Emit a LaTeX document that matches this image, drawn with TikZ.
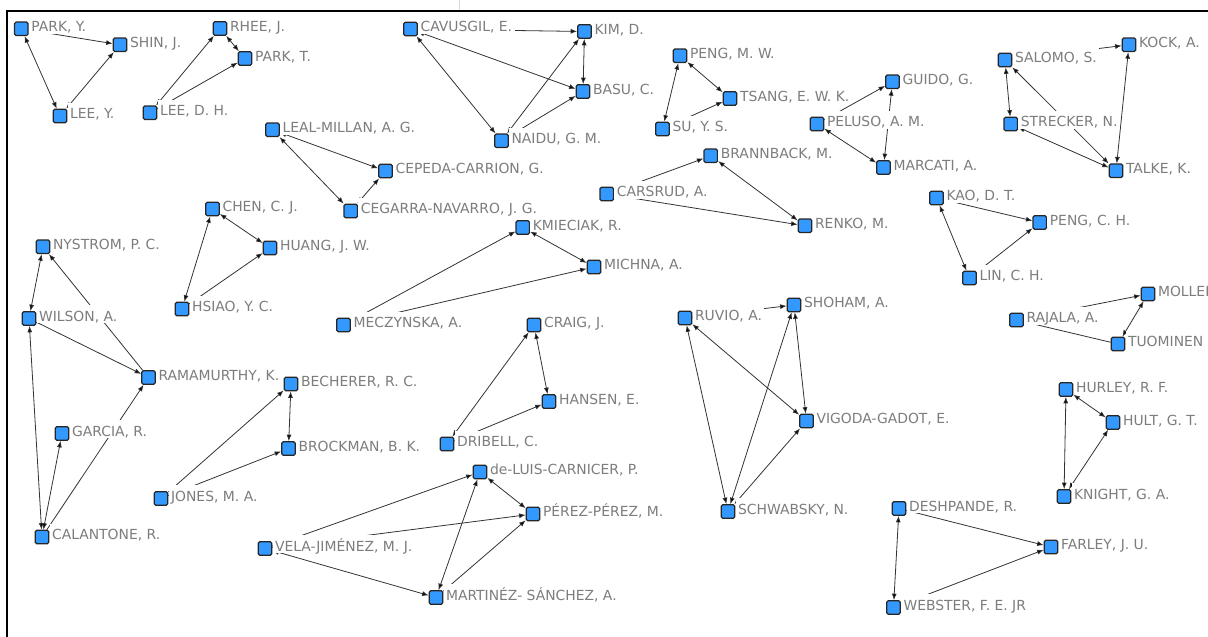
\documentclass[tikz,border=0pt]{standalone}
\usepackage{fontspec}
\setmainfont{DejaVu Sans}
\usetikzlibrary{arrows.meta, backgrounds}
\definecolor{actorblue}{RGB}{51,153,255}
\definecolor{labelgray}{RGB}{125,125,125}
\begin{document}
\begin{tikzpicture}[x=1pt, y=-1pt, >={Latex[length=6.5pt,width=5pt]},
	actor/.style={rectangle, rounded corners=1.5pt, draw=black!85, line width=1.2pt, fill=actorblue, minimum size=13.5pt, inner sep=0pt},
	lbl/.style={fill=white, text=labelgray, font=\fontsize{13.9}{16}\selectfont, inner xsep=2.5pt, inner ysep=0.5pt, text height=15.5pt, text depth=1.5pt, yshift=4.3pt},
	tie/.style={draw=black!80, line width=0.8pt}]
	\useasboundingbox (0,0) rectangle (1208,637);
	\draw[black!15, line width=1pt] (459,0) -- (459,11);
	\draw[line width=1.2pt] (7,637) -- (7,11) -- (1208,11);

	\node[actor, label={[lbl]right:{PARK, Y.}}] (parkY) at (21.3,28.8) {};
	\node[actor, label={[lbl]right:{SHIN, J.}}] (shin) at (120,44.8) {};
	\node[actor, label={[lbl]right:{LEE, Y.}}] (leeY) at (60,116) {};
	\node[actor, label={[lbl]right:{RHEE, J.}}] (rhee) at (220,28.5) {};
	\node[actor, label={[lbl]right:{PARK, T.}}] (parkT) at (245,58.5) {};
	\node[actor, label={[lbl]right:{LEE, D. H.}}] (leeDH) at (150,112.8) {};
	\node[actor, label={[lbl]right:{CAVUSGIL, E.}}] (cavusgil) at (410.5,29) {};
	\node[actor, label={[lbl]right:{KIM, D.}}] (kim) at (584.5,31.5) {};
	\node[actor, label={[lbl]right:{BASU, C.}}] (basu) at (583,91.5) {};
	\node[actor, label={[lbl]right:{NAIDU, G. M.}}] (naidu) at (501.5,140.8) {};
	\node[actor, label={[lbl]right:{PENG, M. W.}}] (pengMW) at (680,55.8) {};
	\node[actor, label={[lbl]right:{TSANG, E. W. K.}}] (tsang) at (730,98.5) {};
	\node[actor, label={[lbl]right:{SU, Y. S.}}] (su) at (662.5,129) {};
	\node[actor, label={[lbl]right:{GUIDO, G.}}] (guido) at (892.5,81.8) {};
	\node[actor, label={[lbl]right:{PELUSO, A. M.}}] (peluso) at (817,124) {};
	\node[actor, label={[lbl]right:{MARCATI, A.}}] (marcati) at (883.5,167.5) {};
	\node[actor, label={[lbl]right:{SALOMO, S.}}] (salomo) at (1005,60) {};
	\node[actor, label={[lbl]right:{KOCK, A.}}] (kock) at (1129,44.8) {};
	\node[actor, label={[lbl]right:{STRECKER, N.}}] (strecker) at (1010.8,124) {};
	\node[actor, label={[lbl]right:{TALKE, K.}}] (talke) at (1116,170.8) {};
	\node[actor, label={[lbl]right:{LEAL-MILLAN, A. G.}}] (leal) at (272.5,129.8) {};
	\node[actor, label={[lbl]right:{CEPEDA-CARRION, G.}}] (cepeda) at (385.5,171) {};
	\node[actor, label={[lbl]right:{CEGARRA-NAVARRO, J. G.}}] (cegarra) at (350.8,211) {};
	\node[actor, label={[lbl]right:{BRANNBACK, M.}}] (brannback) at (710.8,155.8) {};
	\node[actor, label={[lbl]right:{CARSRUD, A.}}] (carsrud) at (606.8,194) {};
	\node[actor, label={[lbl]right:{RENKO, M.}}] (renko) at (805,225.8) {};
	\node[actor, label={[lbl]right:{KAO, D. T.}}] (kao) at (936.5,198) {};
	\node[actor, label={[lbl]right:{PENG, C. H.}}] (pengCH) at (1039.8,222.5) {};
	\node[actor, label={[lbl]right:{LIN, C. H.}}] (lin) at (969.5,278) {};
	\node[actor, label={[lbl]right:{CHEN, C. J.}}] (chen) at (212.5,209) {};
	\node[actor, label={[lbl]right:{HUANG, J. W.}}] (huang) at (270,248) {};
	\node[actor, label={[lbl]right:{HSIAO, Y. C.}}] (hsiao) at (182,309) {};
	\node[actor, label={[lbl]right:{KMIECIAK, R.}}] (kmieciak) at (522.8,227.5) {};
	\node[actor, label={[lbl]right:{MICHNA, A.}}] (michna) at (594,267) {};
	\node[actor, label={[lbl]right:{MECZYNSKA, A.}}] (meczynska) at (343.5,325) {};
	\node[actor, label={[lbl]right:{NYSTROM, P. C.}}] (nystrom) at (43,246.8) {};
	\node[actor, label={[lbl]right:{WILSON, A.}}] (wilson) at (29,318.5) {};
	\node[actor, label={[lbl]right:{RAMAMURTHY, K.}}] (ramamurthy) at (148.5,377.5) {};
	\node[actor, label={[lbl]right:{GARCIA, R.}}] (garcia) at (62,433.5) {};
	\node[actor, label={[lbl]right:{CALANTONE, R.}}] (calantone) at (42,537) {};
	\node[actor, label={[lbl]right:{BECHERER, R. C.}}] (becherer) at (291,384) {};
	\node[actor, label={[lbl]right:{BROCKMAN, B. K.}}] (brockman) at (288.5,448.5) {};
	\node[actor, label={[lbl]right:{JONES, M. A.}}] (jones) at (161,498.5) {};
	\node[actor, label={[lbl]right:{CRAIG, J.}}] (craig) at (534,325) {};
	\node[actor, label={[lbl]right:{HANSEN, E.}}] (hansen) at (549,401.5) {};
	\node[actor, label={[lbl]right:{DRIBELL, C.}}] (dribell) at (447,444) {};
	\node[actor, label={[lbl]right:{de-LUIS-CARNICER, P.}}] (deluis) at (480,472) {};
	\node[actor, label={[lbl]right:{PÉREZ-PÉREZ, M.}}] (perez) at (533,514) {};
	\node[actor, label={[lbl]right:{VELA-JIMÉNEZ, M. J.}}] (vela) at (265,548.5) {};
	\node[actor, label={[lbl]right:{MARTINÉZ- SÁNCHEZ, A.}}] (martinez) at (436,597.5) {};
	\node[actor, label={[lbl]right:{RUVIO, A.}}] (ruvio) at (685,318) {};
	\node[actor, label={[lbl]right:{SHOHAM, A.}}] (shoham) at (794,305) {};
	\node[actor, label={[lbl]right:{VIGODA-GADOT, E.}}] (vigoda) at (806.5,421) {};
	\node[actor, label={[lbl]right:{SCHWABSKY, N.}}] (schwabsky) at (728,511.5) {};
	\node[actor, label={[lbl]right:{MOLLER}}] (moller) at (1148,294) {};
	\node[actor, label={[lbl]right:{RAJALA, A.}}] (rajala) at (1016.5,320) {};
	\node[actor, label={[lbl]right:{TUOMINEN}}] (tuominen) at (1118,344) {};
	\node[actor, label={[lbl]right:{HURLEY, R. F.}}] (hurley) at (1066,389.5) {};
	\node[actor, label={[lbl]right:{HULT, G. T.}}] (hult) at (1113,422.5) {};
	\node[actor, label={[lbl]right:{KNIGHT, G. A.}}] (knight) at (1064,496.5) {};
	\node[actor, label={[lbl]right:{DESHPANDE, R.}}] (deshpande) at (899,508.5) {};
	\node[actor, label={[lbl]right:{FARLEY, J. U.}}] (farley) at (1051,547) {};
	\node[actor, label={[lbl]right:{WEBSTER, F. E. JR}}] (webster) at (893.5,607.5) {};

	\begin{pgfonlayer}{background}
	\path[tie, ->]
		(parkY) edge [<->] (leeY)
		(parkY) edge (shin)
		(leeY) edge [<->] (shin)
		(rhee) edge [<->] (parkT)
		(leeDH) edge [<->] (rhee)
		(leeDH) edge (parkT)
		(cavusgil) edge (kim)
		(cavusgil) edge [<->] (basu)
		(cavusgil) edge [<->] (naidu)
		(naidu) edge [<->] (kim)
		(kim) edge [<->] (basu)
		(naidu) edge (basu)
		(pengMW) edge [<->] (tsang)
		(pengMW) edge [<->] (su)
		(su) edge (tsang)
		(leal) edge [<->] (cepeda)
		(leal) edge [<->] (cegarra)
		(cegarra) edge [<->] (cepeda)
		(carsrud) edge (brannback)
		(carsrud) edge (renko)
		(brannback) edge [<->] (renko)
		(peluso) edge (guido)
		(marcati) edge [<->] (guido)
		(peluso) edge [<->] (marcati)
		(salomo) edge (kock)
		(salomo) edge [<->] (strecker)
		(kock) edge [<->] (talke)
		(strecker) edge [<->] (talke)
		(salomo) edge [<->] (talke)
		(kao) edge (pengCH)
		(kao) edge [<->] (lin)
		(lin) edge (pengCH)
		(chen) edge [<->] (huang)
		(chen) edge [<->] (hsiao)
		(hsiao) edge (huang)
		(meczynska) edge (kmieciak)
		(meczynska) edge (michna)
		(kmieciak) edge [<->] (michna)
		(nystrom) edge [<->] (wilson)
		(wilson) edge (ramamurthy)
		(ramamurthy) edge (nystrom)
		(calantone) edge [<->] (wilson)
		(calantone) edge [<->] (garcia)
		(calantone) edge (ramamurthy)
		(jones) edge (becherer)
		(jones) edge (brockman)
		(becherer) edge [<->] (brockman)
		(craig) edge [<->] (hansen)
		(dribell) edge [<->] (craig)
		(dribell) edge (hansen)
		(vela) edge (deluis)
		(vela) edge (perez)
		(vela) edge [<->] (martinez)
		(deluis) edge [<->] (perez)
		(deluis) edge [<->] (martinez)
		(martinez) edge (perez)
		(ruvio) edge (shoham)
		(ruvio) edge [<->] (vigoda)
		(ruvio) edge [<->] (schwabsky)
		(shoham) edge [<->] (vigoda)
		(shoham) edge [<->] (schwabsky)
		(schwabsky) edge [<->] (vigoda)
		(rajala) edge (moller)
		(moller) edge [<->] (tuominen)
		(tuominen) edge [-] (rajala)
		(hurley) edge [<->] (hult)
		(hurley) edge [<->] (knight)
		(hult) edge [<->] (knight)
		(deshpande) edge (farley)
		(deshpande) edge [<->] (webster)
		(webster) edge (farley);
	\end{pgfonlayer}
\end{tikzpicture}
\end{document}
